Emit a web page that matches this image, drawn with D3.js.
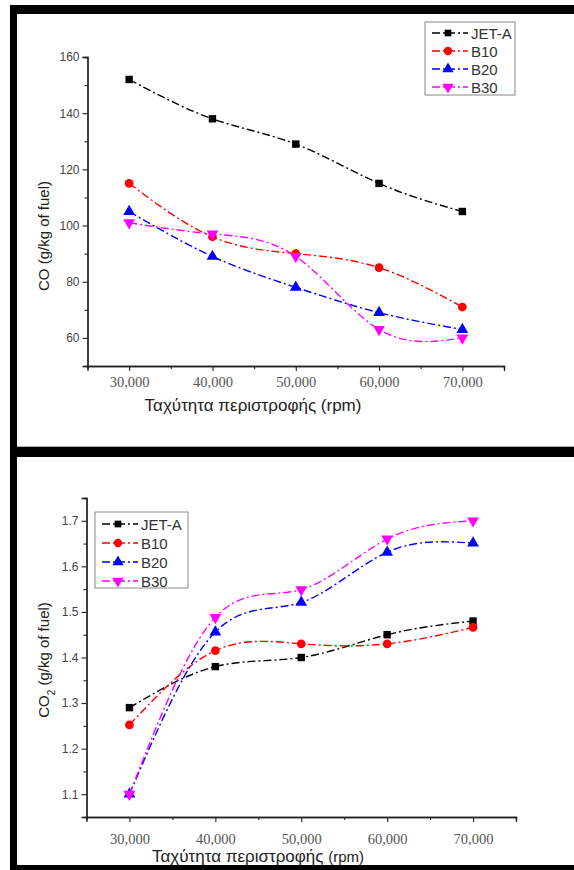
<!DOCTYPE html>
<html>
<head>
<meta charset="utf-8">
<script src="https://cdn.jsdelivr.net/npm/d3@7"></script>
<style>
  body { margin: 0; background: #fff; }
  svg { display: block; }
</style>
</head>
<body>
<div id="chart"></div>
<script>
// Data
var rpm = [30000, 40000, 50000, 60000, 70000];
var fuels = ["JET-A", "B10", "B20", "B30"];
var fuelColors = ["#000000", "#ff0000", "#0000ff", "#ff00ff"];
var fuelSymbols = ["square", "circle", "triangle", "triangleDown"];

// CO (g/kg of fuel)
var coJetA = [152, 138, 129, 115, 105];
var coB10 = [115, 96, 90, 85, 71];
var coB20 = [105, 89, 78, 69, 63];
var coB30 = [101, 97, 89, 63, 60];
var coTicks = [60, 80, 100, 120, 140, 160];

// CO2 (g/kg of fuel)
var co2JetA = [1.29, 1.38, 1.40, 1.45, 1.48];
var co2B10 = [1.252, 1.415, 1.43, 1.43, 1.466];
var co2B20 = [1.10, 1.456, 1.521, 1.631, 1.651];
var co2B30 = [1.10, 1.488, 1.549, 1.66, 1.70];
var co2Ticks = [1.1, 1.2, 1.3, 1.4, 1.5, 1.6, 1.7];

var xTickLabels = ["30,000", "40,000", "50,000", "60,000", "70,000"];
var xMinorTicks = [25000, 35000, 45000, 55000, 65000, 75000];

var svg = d3.select("#chart").append("svg")
    .attr("width", 574)
    .attr("height", 870);

// black frames round the two panels
svg.append("rect").attr("x", 10).attr("y", 5).attr("width", 564).attr("height", 865).attr("fill", "#000");
svg.append("rect").attr("x", 17).attr("y", 14).attr("width", 557).attr("height", 433).attr("fill", "#fff");
svg.append("rect").attr("x", 17).attr("y", 457).attr("width", 557).attr("height", 408).attr("fill", "#fff");
svg.append("line").attr("x1", 17).attr("x2", 574).attr("y1", 446.5).attr("y2", 446.5)
    .attr("stroke", "#aaa").attr("stroke-width", 1);

function symbolFor(name, size) {
    if (name === "square") return d3.symbol(d3.symbolSquare, size)();
    if (name === "circle") return d3.symbol(d3.symbolCircle, size)();
    // triangles; the down one is rotated where it is placed
    return d3.symbol(d3.symbolTriangle, size)();
}

function drawPanel(p) {
    var g = svg.append("g");

    var x = d3.scaleLinear().domain([25000, 75000]).range([p.left, p.right]);
    var y = d3.scaleLinear().domain(p.yDomain).range([p.bottom, p.top]);

    // y axis with minor ticks
    var yAxis = d3.axisLeft(y).tickValues(p.yTicks).tickSize(5).tickPadding(3)
        .tickFormat(p.yFormat);
    var yMinor = d3.axisLeft(y).tickValues(p.yMinor).tickSize(3).tickFormat("");
    var gy = g.append("g").attr("transform", `translate(${p.left},0)`).call(yAxis);
    g.append("g").attr("transform", `translate(${p.left},0)`).call(yMinor);

    // x axis with minor ticks
    var xAxis = d3.axisBottom(x).tickValues(rpm).tickSize(5).tickPadding(p.xPad)
        .tickFormat((d, i) => xTickLabels[i]);
    var xMinor = d3.axisBottom(x).tickValues(xMinorTicks).tickSize(3).tickFormat("");
    var gx = g.append("g").attr("transform", `translate(0,${p.bottom})`).call(xAxis);
    g.append("g").attr("transform", `translate(0,${p.bottom})`).call(xMinor);

    g.selectAll(".domain").attr("stroke", "#222").attr("stroke-width", 1.3);
    g.selectAll(".tick line").attr("stroke", "#222").attr("stroke-width", 1.1);

    gy.selectAll("text")
        .attr("font-family", "Liberation Sans, Arial, sans-serif")
        .attr("font-size", 12)
        .attr("fill", "#444");
    gx.selectAll("text")
        .attr("font-family", "Liberation Serif, Times New Roman, serif")
        .attr("font-size", 14.5)
        .attr("fill", "#555");

    // series
    var line = d3.line()
        .x((d, i) => x(rpm[i]))
        .y(d => y(d))
        .curve(d3.curveNatural);

    p.series.forEach(function(vals, k) {
        g.append("path")
            .attr("d", line(vals))
            .attr("fill", "none")
            .attr("stroke", fuelColors[k])
            .attr("stroke-width", 1.4)
            .attr("stroke-dasharray", "8,3,2,3");

        g.selectAll(".m" + k)
            .data(vals)
            .enter()
            .append("path")
            .attr("d", symbolFor(fuelSymbols[k], k === 0 ? 55 : 60))
            .attr("transform", (d, i) => `translate(${x(rpm[i])},${y(d)})` + (fuelSymbols[k] === "triangleDown" ? " rotate(180)" : ""))
            .attr("fill", fuelColors[k]);
    });

    // axis titles
    var xt = g.append("text")
        .attr("x", p.xTitleX)
        .attr("y", p.xTitleY)
        .attr("text-anchor", "middle")
        .attr("font-family", "Liberation Sans, Arial, sans-serif")
        .attr("font-size", 17)
        .attr("fill", "#222");
    p.xTitle.forEach(function(part) {
        var t = xt.append("tspan").text(part.t);
        if (part.size) t.attr("font-size", part.size);
    });

    var yt = g.append("text")
        .attr("transform", `translate(${p.yTitleX},${p.yTitleY}) rotate(-90)`)
        .attr("text-anchor", "middle")
        .attr("font-family", "Liberation Sans, Arial, sans-serif")
        .attr("font-size", 15)
        .attr("fill", "#222");
    p.yTitle.forEach(function(part) {
        var t = yt.append("tspan").text(part.t);
        if (part.sub) t.attr("font-size", 10).attr("baseline-shift", "sub");
    });

    // legend
    var lg = g.append("g");
    lg.append("rect")
        .attr("x", p.legend.x).attr("y", p.legend.y)
        .attr("width", p.legend.w).attr("height", p.legend.h)
        .attr("fill", "#fff").attr("stroke", "#888").attr("stroke-width", 1);
    fuels.forEach(function(name, k) {
        var ly = p.legend.y + p.legend.first + k * p.legend.step;
        var lx = p.legend.x + 7;
        lg.append("line")
            .attr("x1", lx).attr("x2", lx + 36)
            .attr("y1", ly).attr("y2", ly)
            .attr("stroke", fuelColors[k])
            .attr("stroke-width", 1.4)
            .attr("stroke-dasharray", "8,3,12,3,2,3");
        lg.append("path")
            .attr("d", symbolFor(fuelSymbols[k], k === 0 ? 45 : 55))
            .attr("transform", `translate(${lx + 16},${ly})` + (fuelSymbols[k] === "triangleDown" ? " rotate(180)" : ""))
            .attr("fill", fuelColors[k]);
        lg.append("text")
            .attr("x", lx + 39)
            .attr("y", ly + 5.5)
            .attr("font-family", "Liberation Sans, Arial, sans-serif")
            .attr("font-size", 15)
            .attr("fill", "#333")
            .text(name);
    });
}

drawPanel({
    left: 87.5, right: 504, top: 57, bottom: 366,
    yDomain: [50, 160],
    yTicks: coTicks,
    yMinor: [70, 90, 110, 130, 150],
    yFormat: d3.format("d"),
    xPad: 6,
    series: [coJetA, coB10, coB20, coB30],
    xTitle: [{t: "Ταχύτητα περιστροφής (rpm)"}],
    xTitleX: 253, xTitleY: 411,
    yTitle: [{t: "CO (g/kg of fuel)"}],
    yTitleX: 49, yTitleY: 236,
    legend: {x: 425, y: 22, w: 90, h: 73, first: 11, step: 18}
});

drawPanel({
    left: 86.5, right: 516, top: 498, bottom: 817,
    yDomain: [1.05, 1.75],
    yTicks: co2Ticks,
    yMinor: [1.15, 1.25, 1.35, 1.45, 1.55, 1.65, 1.75],
    yFormat: d3.format(".1f"),
    xPad: 12,
    series: [co2JetA, co2B10, co2B20, co2B30],
    xTitle: [{t: "Ταχύτητα περιστροφής  "}, {t: "(rpm)", size: 15}],
    xTitleX: 258, xTitleY: 862,
    yTitle: [{t: "CO"}, {t: "2", sub: true}, {t: " (g/kg of fuel)"}],
    yTitleX: 49, yTitleY: 660,
    legend: {x: 95, y: 512, w: 93, h: 76, first: 12, step: 19}
});
</script>
</body>
</html>
